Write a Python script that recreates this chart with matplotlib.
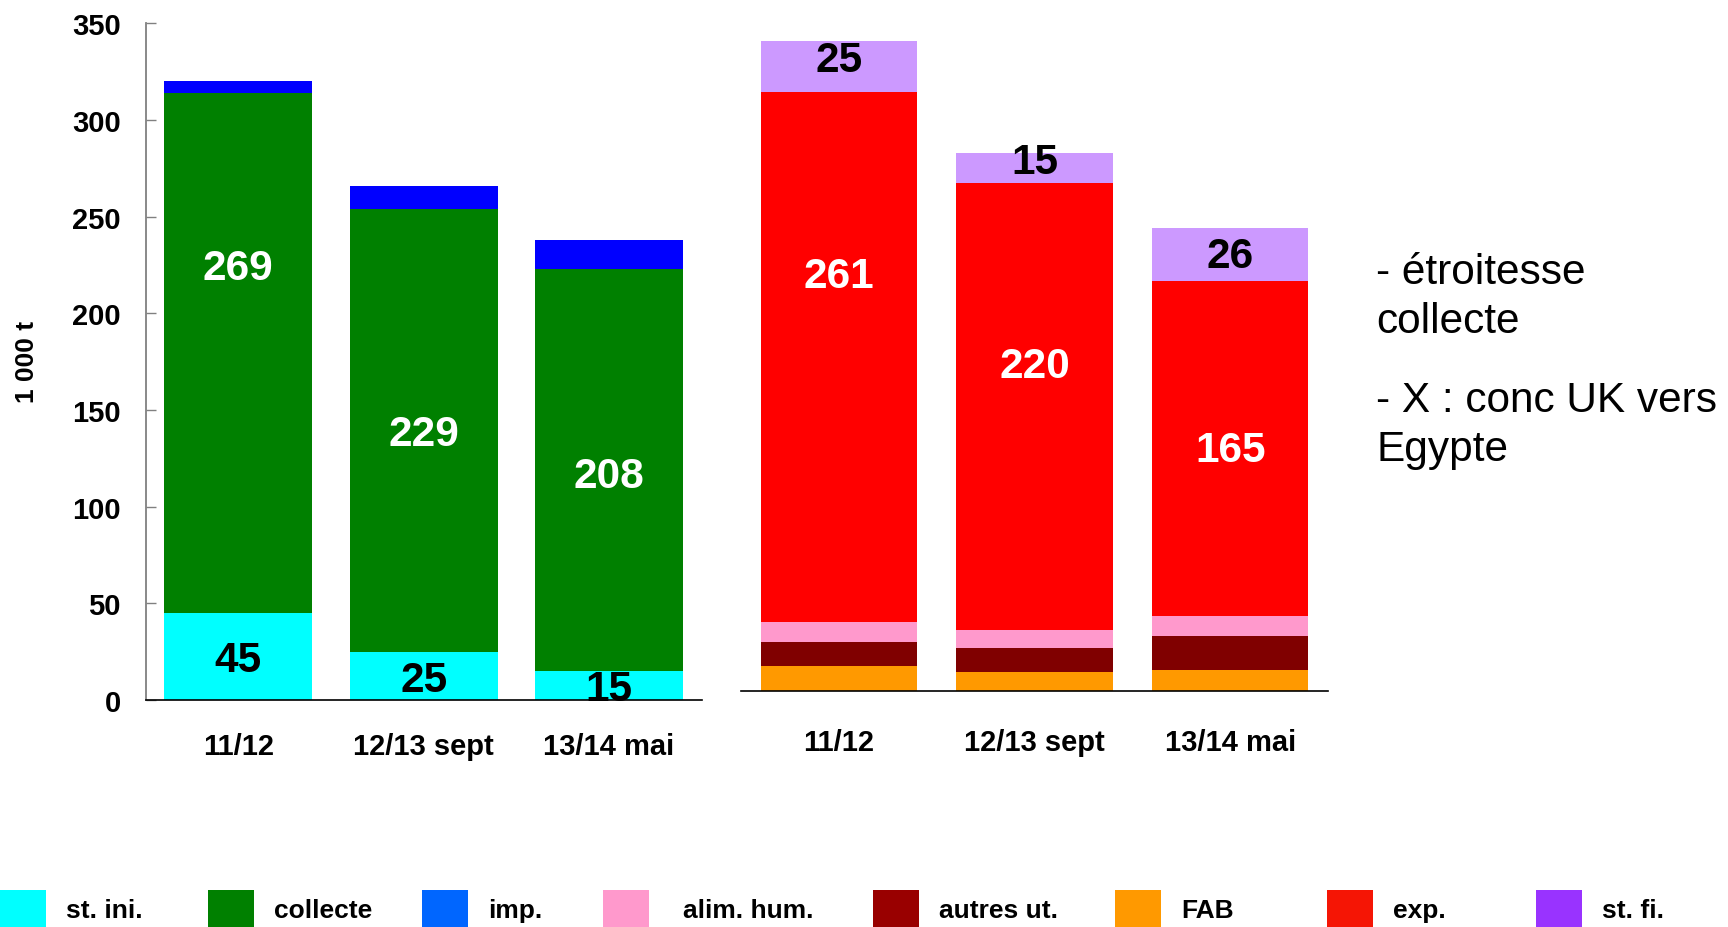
import numpy as np
import matplotlib
matplotlib.use('Agg')
import matplotlib.pyplot as plt
from matplotlib.patches import Patch

plt.rcParams['font.family'] = ['Liberation Sans', 'DejaVu Sans']

# data (1 000 t)
periods = ['11/12', '12/13 sept', '13/14 mai']

# ressources
st_ini = [45, 25, 15]
collecte = [269, 229, 208]
imp = [6, 12, 15]

# emplois
fab = [12, 9, 10]
autres_ut = [12, 12, 17]
alim_hum = [10, 9, 10]
exp = [261, 220, 165]
st_fi = [25, 15, 26]

yticks = [0, 50, 100, 150, 200, 250, 300, 350]

legend_labels = ['st. ini.', 'collecte', 'imp.', 'alim. hum.', 'autres ut.', 'FAB', 'exp.', 'st. fi.']
legend_colors = ['#00FFFF', '#008000', '#0066FF', '#FF99CC', '#990000', '#FF9900', '#F51505', '#9933FF']
legend_x_px = [0, 208, 422, 603, 873, 1115, 1327, 1536]  # left edge of each legend entry
legend_pad = [0.76, 0.76, 0.76, 1.29, 0.76, 0.76, 0.76, 0.76]

#%% plot
fig = plt.figure(figsize=(17.28, 9.28), dpi=100)
ax1 = fig.add_axes([0.0843, 0.2446, 0.3218, 0.729])
ax2 = fig.add_axes([0.4288, 0.2546, 0.3397, 0.7219])

x = np.arange(len(periods))
w = 0.8

# left: ressources
b = np.zeros(len(periods))
for vals, col in [(st_ini, '#00FFFF'), (collecte, '#008000'), (imp, '#0000FF')]:
    ax1.bar(x, vals, w, bottom=b, color=col, linewidth=0)
    b = b + np.array(vals)

# right: emplois
b = np.zeros(len(periods))
for vals, col in [(fab, '#FF9900'), (autres_ut, '#800000'), (alim_hum, '#FF99CC'),
                  (exp, '#FF0000'), (st_fi, '#CC99FF')]:
    ax2.bar(x, vals, w, bottom=b, color=col, linewidth=0)
    b = b + np.array(vals)

# value labels
lab_font = dict(fontsize=30.5, fontweight='bold', ha='center', va='center')
for i in range(3):
    ax1.text(x[i], st_ini[i] / 2 - 2, str(st_ini[i]), color='black', **lab_font)
    shift = [44, -2, -3][i]
    ax1.text(x[i], st_ini[i] + collecte[i] / 2 + shift, str(collecte[i]), color='white', **lab_font)

low = np.array(fab) + np.array(autres_ut) + np.array(alim_hum)
for i in range(3):
    shift = [40, 20, -1][i]
    ax2.text(x[i], low[i] + exp[i] / 2 + shift, str(exp[i]), color='white', **lab_font)
    shift = [3, 3, -1][i]
    ax2.text(x[i], low[i] + exp[i] + st_fi[i] / 2 + shift, str(st_fi[i]), color='black', **lab_font)

# axes styling
ax1.set_xlim(-0.5, 2.5)
ax1.set_ylim(0, 350)
ax1.set_yticks(yticks)
ax1.set_xticks(x)
ax1.set_xticklabels(periods, fontsize=21, fontweight='bold')
ax1.tick_params(axis='x', length=0, pad=23)
ax1.tick_params(axis='y', direction='in', length=7, width=1, color='#808080', pad=18, labelsize=21)
for t in ax1.get_yticklabels():
    t.set_fontweight('bold')
for s in ['top', 'right']:
    ax1.spines[s].set_visible(False)
ax1.spines['left'].set_color('#808080')
ax1.spines['left'].set_linewidth(1.3)
ax1.spines['bottom'].set_color('black')
ax1.spines['bottom'].set_linewidth(1.2)

ax2.set_xlim(-0.5, 2.5)
ax2.set_ylim(0, 330)
ax2.set_yticks([])
ax2.set_xticks(x)
ax2.set_xticklabels(periods, fontsize=21, fontweight='bold')
ax2.tick_params(axis='x', length=0, pad=27)
for s in ['top', 'right', 'left']:
    ax2.spines[s].set_visible(False)
ax2.spines['bottom'].set_color('black')
ax2.spines['bottom'].set_linewidth(1.2)

fig.text(27.5 / 1728, 1 - 362 / 928, '1 000 t', rotation=90, fontsize=19, fontweight='bold',
         ha='center', va='center')

# comments
fig.text(1376 / 1728, 1 - 253 / 928, '- étroitesse\ncollecte', fontsize=30.5, ha='left', va='top',
         linespacing=1.3)
fig.text(1376 / 1728, 1 - 381 / 928, '- X : conc UK vers\nEgypte', fontsize=30.5, ha='left', va='top',
         linespacing=1.3)

# legend, one entry at a time to keep the uneven spacing
for lab, col, xp, pad in zip(legend_labels, legend_colors, legend_x_px, legend_pad):
    fig.legend([Patch(facecolor=col, edgecolor='none')], [lab], loc='lower left',
               bbox_to_anchor=(xp / 1728, 0), frameon=False, borderpad=0, borderaxespad=0,
               handlelength=1.74, handleheight=1.78, handletextpad=pad,
               prop={'size': 19, 'weight': 'bold'})

plt.savefig('out.png', dpi=100)
plt.close()
